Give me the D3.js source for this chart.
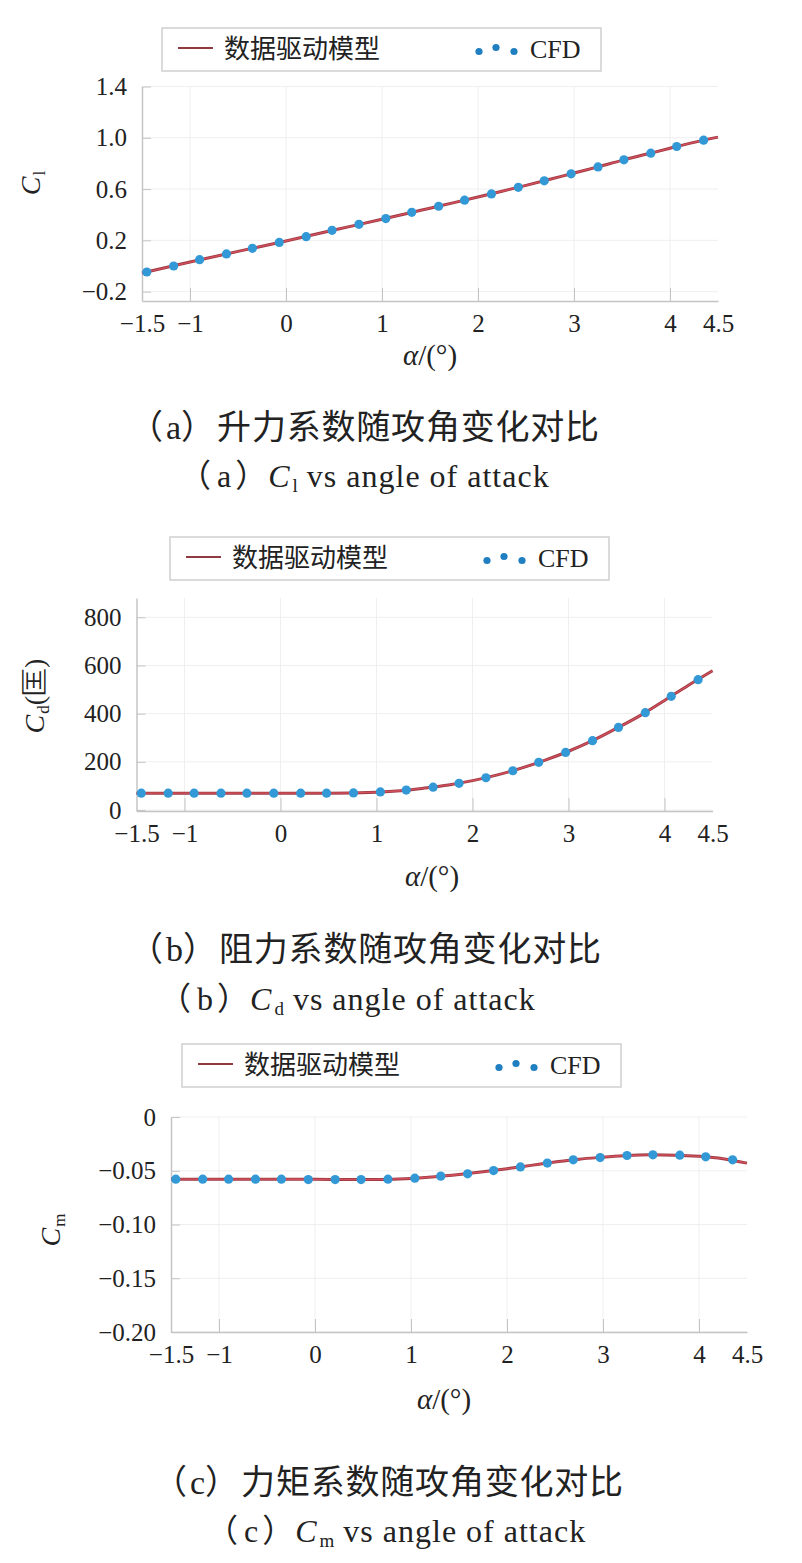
<!DOCTYPE html>
<html>
<head>
<meta charset="utf-8">
<script src="https://cdn.jsdelivr.net/npm/d3@7"></script>
<style>
body{margin:0;background:#fff;}
svg text{font-family:"Liberation Serif","Times New Roman",serif;}
svg text.cjk, svg tspan.cjk{font-family:"Noto Sans CJK SC","Noto Sans CJK JP",sans-serif;}
svg tspan.ser{font-family:"Liberation Serif","Times New Roman",serif;}
</style>
</head>
<body>
<div id="body"></div>
<script>
// values
var alphaCFD = [-1.45, -1.17, -0.90, -0.62, -0.35, -0.07, 0.21, 0.48, 0.76, 1.04, 1.31,
                1.59, 1.86, 2.14, 2.42, 2.69, 2.97, 3.25, 3.52, 3.80, 4.07, 4.35];
var clCFD = [-0.047, 0.000, 0.049, 0.094, 0.138, 0.184, 0.229, 0.278, 0.325, 0.370, 0.419,
             0.466, 0.513, 0.562, 0.614, 0.664, 0.719, 0.773, 0.828, 0.880, 0.932, 0.981];
var cdCFD = [70, 70, 70, 70, 70, 70, 70, 70, 71, 75, 83,
             95, 111, 134, 163, 198, 239, 288, 343, 404, 472, 541];
var cmCFD = [-0.0578, -0.0578, -0.0578, -0.0578, -0.0578, -0.0582, -0.0582, -0.0582, -0.0578, -0.0569, -0.0550,
             -0.0529, -0.0498, -0.0464, -0.0429, -0.0398, -0.0377, -0.0358, -0.0352, -0.0355, -0.0370, -0.0398];

var alphaModel = [-1.5, -1, -0.5, 0, 0.5, 1, 1.25, 1.5, 1.75, 2, 2.25, 2.5, 2.75, 3, 3.25, 3.5, 3.75, 4, 4.25, 4.5];
var clModel = [-0.055, 0.031, 0.114, 0.195, 0.281, 0.364, 0.408, 0.451, 0.494, 0.538, 0.583,
               0.629, 0.676, 0.725, 0.773, 0.824, 0.871, 0.918, 0.964, 1.005];
var cdModel = [70, 70, 70, 70, 70, 74, 80, 91, 104, 122, 145, 173, 206, 244, 288, 339, 393, 455, 518, 578];
var cmModel = [-0.0578, -0.0578, -0.0578, -0.0580, -0.0582, -0.0571, -0.0556, -0.0535, -0.0510, -0.0481,
               -0.0450, -0.0419, -0.0392, -0.0374, -0.0358, -0.0352, -0.0355, -0.0366, -0.0388, -0.0429];

var xTicks = [-1.5, -1, 0, 1, 2, 3, 4, 4.5];
var xTickLabels = ["\u22121.5", "\u22121", "0", "1", "2", "3", "4", "4.5"];
var xGrid = [-1, 0, 1, 2, 3, 4];
var clTicks = [-0.2, 0.2, 0.6, 1.0, 1.4];
var clTickLabels = ["\u22120.2", "0.2", "0.6", "1.0", "1.4"];
var cdTicks = [0, 200, 400, 600, 800];
var cdTickLabels = ["0", "200", "400", "600", "800"];
var cmTicks = [0, -0.05, -0.10, -0.15, -0.20];
var cmTickLabels = ["0", "\u22120.05", "\u22120.10", "\u22120.15", "\u22120.20"];
var legendNames = ["数据驱动模型", "CFD"];

var svg = d3.select("#body").append("svg").attr("width", 802).attr("height", 1563);

function panel(p) {
  var x = d3.scaleLinear().domain([-1.5, 4.5]).range([p.left, p.right]);
  var y = d3.scaleLinear().domain(p.yDomain).range([p.bottom, p.top]);
  var g = svg.append("g");

  // grid
  g.selectAll(null).data(xGrid).enter().append("line")
    .attr("x1", function(d){ return x(d); }).attr("x2", function(d){ return x(d); })
    .attr("y1", p.top).attr("y2", p.bottom)
    .attr("stroke", "#efefef").attr("stroke-width", 1);
  g.selectAll(null).data(p.yTicks).enter().append("line")
    .attr("x1", p.left).attr("x2", p.right)
    .attr("y1", function(d){ return y(d); }).attr("y2", function(d){ return y(d); })
    .attr("stroke", "#efefef").attr("stroke-width", 1);

  // axes
  var xa = g.append("g").attr("transform", "translate(0," + p.bottom + ")")
    .call(d3.axisBottom(x).tickValues(xTicks)
      .tickFormat(function(d, i){ return xTickLabels[i]; })
      .tickSizeInner(-13).tickSizeOuter(0).tickPadding(13));
  xa.selectAll(".tick line").attr("stroke", function(d){ return (d === -1.5 || d === 4.5) ? "none" : "#c4c4c4"; });
  var ya = g.append("g").attr("transform", "translate(" + p.left + ",0)")
    .call(d3.axisLeft(y).tickValues(p.yTicks)
      .tickFormat(function(d, i){ return p.yLabels[i]; })
      .tickSizeInner(-9).tickSizeOuter(0).tickPadding(15));
  ya.selectAll(".tick line").attr("stroke", "#c4c4c4");
  [xa, ya].forEach(function(a){
    a.attr("font-family", null);
    a.select(".domain").attr("stroke", "#c4c4c4").attr("stroke-width", 1.5);
    a.selectAll("text").attr("font-size", 25).attr("fill", "#222");
  });

  // model curve
  var line = d3.line().x(function(d){ return x(d[0]); }).y(function(d){ return y(d[1]); })
    .curve(d3.curveMonotoneX);
  g.append("path").datum(d3.zip(alphaModel, p.model))
    .attr("d", line).attr("fill", "none").attr("stroke", "#9c3a45").attr("stroke-width", 3);
  g.append("path").datum(d3.zip(alphaModel, p.model))
    .attr("d", line).attr("fill", "none").attr("stroke", "#d6505b").attr("stroke-width", 1.3);

  // CFD points
  g.selectAll(null).data(d3.zip(alphaCFD, p.cfd)).enter().append("circle")
    .attr("cx", function(d){ return x(d[0]); }).attr("cy", function(d){ return y(d[1]); })
    .attr("r", 4.6).attr("fill", "#3399d6");

  // legend
  var lg = g.append("g").attr("transform", "translate(" + p.legX + "," + p.legY + ")");
  lg.append("rect").attr("width", 439).attr("height", 43)
    .attr("fill", "#fff").attr("stroke", "#cfcfcf").attr("stroke-width", 1.5);
  lg.append("line").attr("x1", 16).attr("x2", 51).attr("y1", 20).attr("y2", 20)
    .attr("stroke", "#8e3a40").attr("stroke-width", 2);
  lg.append("text").attr("class", "cjk").attr("x", 62).attr("y", 30)
    .attr("font-size", 26).attr("fill", "#222").text(legendNames[0]);
  lg.selectAll(null).data([[317, 23.5], [334, 19.5], [352, 23.5]]).enter().append("circle")
    .attr("cx", function(d){ return d[0]; }).attr("cy", function(d){ return d[1]; })
    .attr("r", 3.6).attr("fill", "#1f7fc0");
  lg.append("text").attr("x", 368).attr("y", 30)
    .attr("font-size", 26).attr("fill", "#222").text(legendNames[1]);

  // y title
  var yt = g.append("text").attr("transform", "translate(" + p.yTitle[0] + "," + p.yTitle[1] + ") rotate(-90)")
    .attr("text-anchor", "middle").attr("font-size", 28).attr("fill", "#222");
  yt.append("tspan").attr("font-style", "italic").text("C");
  yt.append("tspan").attr("font-size", 17).attr("dx", 1).attr("dy", 5).text(p.sub);
  if (p.unit) yt.append("tspan").attr("dy", -5).text(p.unit);

  // x title
  var xt = g.append("text").attr("x", p.xTitle[0]).attr("y", p.xTitle[1])
    .attr("text-anchor", "middle").attr("font-size", 29).attr("fill", "#222");
  xt.append("tspan").attr("font-style", "italic").text("\u03b1");
  xt.append("tspan").text("/(\u00b0)");

  // captions
  var c1 = g.append("text").attr("class", "cjk").attr("x", p.cap[0]).attr("y", p.cap[1])
    .attr("font-size", 34).attr("fill", "#222");
  c1.append("tspan").text("\uff08");
  c1.append("tspan").attr("class", "ser").attr("dx", 3).text(p.letter);
  c1.append("tspan").text("\uff09");
  c1.append("tspan").attr("letter-spacing", 0.8).attr("dx", 2).text(p.title);

  var c2 = g.append("text").attr("class", "cjk").attr("x", p.cap2[0]).attr("y", p.cap2[1])
    .attr("font-size", 32).attr("fill", "#222");
  c2.append("tspan").text("\uff08");
  c2.append("tspan").attr("class", "ser").attr("dx", 6).text(p.letter);
  c2.append("tspan").attr("dx", 4).text("\uff09");
  c2.append("tspan").attr("class", "ser").attr("font-style", "italic").attr("dx", 1).text("C");
  c2.append("tspan").attr("class", "ser").attr("font-size", 19).attr("dx", 3).attr("dy", 5).text(p.sub);
  c2.append("tspan").attr("class", "ser").attr("dy", -5).attr("letter-spacing", 1).text(" vs angle of attack");
}

panel({ left: 142, right: 718, top: 86.5, bottom: 301, yDomain: [-0.273, 1.4],
        yTicks: clTicks, yLabels: clTickLabels, model: clModel, cfd: clCFD,
        legX: 162, legY: 28, yTitle: [40, 183], sub: "l", unit: null,
        xTitle: [430, 365], cap: [129, 439], cap2: [179, 487], letter: "a",
        title: "升力系数随攻角变化对比" });
panel({ left: 136.5, right: 712.5, top: 598, bottom: 811, yDomain: [-4, 880],
        yTicks: cdTicks, yLabels: cdTickLabels, model: cdModel, cfd: cdCFD,
        legX: 170, legY: 537, yTitle: [44, 696], sub: "d", unit: "(匡)",
        xTitle: [432, 886], cap: [129, 961], cap2: [159, 1010], letter: "b",
        title: "阻力系数随攻角变化对比" });
panel({ left: 171, right: 747, top: 1117, bottom: 1332, yDomain: [-0.2, 0],
        yTicks: cmTicks, yLabels: cmTickLabels, model: cmModel, cfd: cmCFD,
        legX: 182, legY: 1044, yTitle: [60, 1230], sub: "m", unit: null,
        xTitle: [444, 1409], cap: [153, 1494], cap2: [206, 1542], letter: "c",
        title: "力矩系数随攻角变化对比" });
</script>
</body>
</html>
